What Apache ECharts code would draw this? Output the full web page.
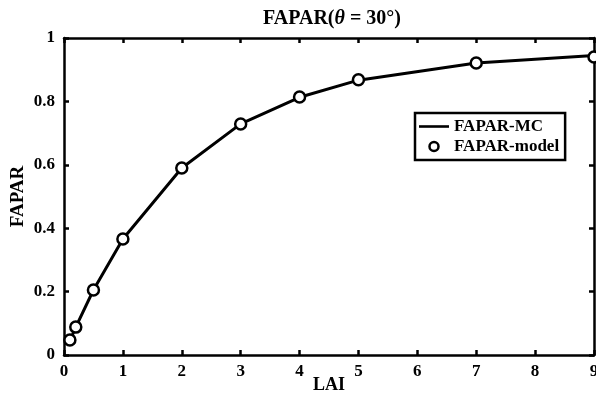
<!DOCTYPE html>
<html><head><meta charset="utf-8">
<script src="https://cdn.jsdelivr.net/npm/echarts@6/dist/echarts.min.js"></script>
<style>html,body{margin:0;padding:0;background:#fff}#c{width:596px;height:400px}</style>
</head><body><div id="c"></div>
<script>
const lai = [0.1, 0.2, 0.5, 1, 2, 3, 4, 5, 7, 9];
const faparMC = [0.045, 0.088, 0.205, 0.366, 0.59, 0.729, 0.813, 0.867, 0.921, 0.945];
const faparModel = [0.047, 0.088, 0.205, 0.366, 0.59, 0.729, 0.814, 0.868, 0.921, 0.94];
const xTicks = [0,1,2,3,4,5,6,7,8,9];
const yTicks = [0,0.2,0.4,0.6,0.8,1];

const font = '"Liberation Serif","DejaVu Serif",serif';
const chart = echarts.init(document.getElementById('c'));
const axisCommon = {
  axisLine: {show: true, onZero: false, lineStyle: {color: '#000', width: 2.5}},
  axisTick: {show: true, inside: true, length: 5, lineStyle: {color: '#000', width: 2.5}},
  splitLine: {show: false}
};
chart.setOption({
  animation: false,
  title: {
    text: '{a|FAPAR(}{b|θ}{a| = 30°)}',
    left: 327, textAlign: 'center', top: 4,
    textStyle: {rich: {
      a: {fontFamily: font, fontWeight: 'bold', fontSize: 20, color: '#000'},
      b: {fontFamily: font, fontWeight: 'bold', fontStyle: 'italic', fontSize: 20, color: '#000'}
    }}
  },
  grid: {left: 64, right: 2, top: 38, bottom: 45, containLabel: false, outerBoundsMode: 'none'},
  legend: {
    orient: 'vertical', left: 415, top: 113,
    borderColor: '#000', borderWidth: 2.5, padding: [5, 6, 5, 4], itemGap: 3,
    itemWidth: 30, itemHeight: 9,
    textStyle: {fontFamily: font, fontWeight: 'bold', fontSize: 17, color: '#000'},
    data: [
      {name: 'FAPAR-MC', icon: 'path://M0,0L30,0L30,2.6L0,2.6Z'},
      {name: 'FAPAR-model', icon: 'circle', itemStyle: {color: '#fff', borderColor: '#000', borderWidth: 2.5}}
    ]
  },
  xAxis: [
    Object.assign({type: 'value', min: 0, max: 9, interval: 1, position: 'bottom',
      name: 'LAI', nameLocation: 'middle', nameGap: 21, nameMoveOverlap: false,
      nameTextStyle: {fontFamily: font, fontWeight: 'bold', fontSize: 18, color: '#000'},
      axisLabel: {fontFamily: font, fontWeight: 'bold', fontSize: 17, color: '#000', margin: 8,
        formatter: v => xTicks.includes(v) ? String(v) : ''}}, axisCommon),
    Object.assign({type: 'value', min: 0, max: 9, interval: 1, position: 'top',
      axisLabel: {show: false}}, axisCommon)
  ],
  yAxis: [
    Object.assign({type: 'value', min: 0, max: 1, interval: 0.2, position: 'left',
      name: 'FAPAR', nameLocation: 'middle', nameGap: 36, nameRotate: 90, nameMoveOverlap: false,
      nameTextStyle: {fontFamily: font, fontWeight: 'bold', fontSize: 19, color: '#000'},
      axisLabel: {fontFamily: font, fontWeight: 'bold', fontSize: 17, color: '#000', margin: 9,
        formatter: v => { const t = yTicks.find(y => Math.abs(y - v) < 1e-9); return t === undefined ? '' : String(t); }}}, axisCommon),
    Object.assign({type: 'value', min: 0, max: 1, interval: 0.2, position: 'right',
      axisLabel: {show: false}}, axisCommon)
  ],
  series: [
    {name: 'FAPAR-MC', type: 'line', data: lai.map((x, i) => [x, faparMC[i]]),
      showSymbol: false, symbol: 'none', lineStyle: {color: '#000', width: 3}, itemStyle: {color: '#000'}, z: 2},
    {name: 'FAPAR-model', type: 'scatter', data: lai.map((x, i) => [x, faparModel[i]]),
      symbol: 'circle', symbolSize: 11, itemStyle: {color: '#fff', borderColor: '#000', borderWidth: 2.5, opacity: 1}, z: 3}
  ]
});
</script></body></html>
